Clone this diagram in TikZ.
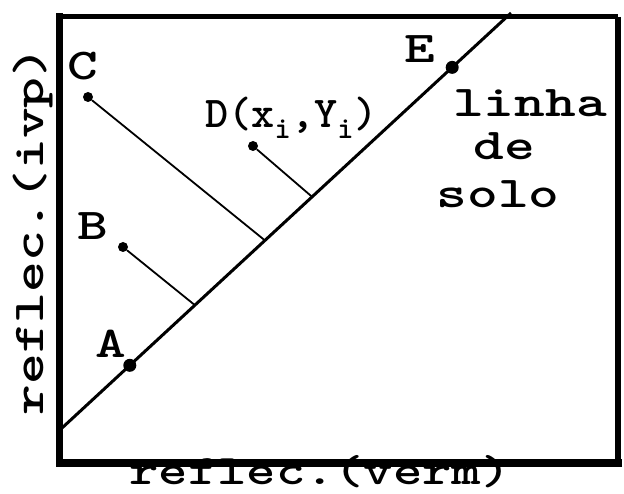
\documentclass[tikz,border=0pt]{standalone}
\usepackage{tikz}
\newcommand{\dotmx}[1]{\scalebox{1.33}[1]{#1}}

\begin{document}
\begin{tikzpicture}[x=1pt,y=-1pt,
  txt/.style={font=\fontsize{44}{48}\selectfont\ttfamily\bfseries,
              inner sep=0pt,anchor=base},
  dotsm/.style={circle,fill=black,inner sep=0pt,minimum size=10pt},
  dotbig/.style={circle,fill=black,inner sep=0pt,minimum size=13pt},
  gnd/.style={line width=3pt},
  perp/.style={line width=1.8pt},
]
  \useasboundingbox (0,0) rectangle (624,494);

  % frame
  \coordinate (tl) at (59.5,17);
  \coordinate (tr) at (618,17);
  \coordinate (br) at (618,463);
  \coordinate (bl) at (59.5,463);
  \draw[line width=5pt] (tl) -- (tr);
  \draw[line width=6pt] (tr) -- (br);
  \draw[line width=8pt,line cap=rect] (br) -- (bl);
  \draw[line width=7pt,line cap=rect] (bl) -- (tl);

  % linha de solo
  \coordinate (g0) at (62,428);
  \coordinate (g1) at (511,13);
  \draw[gnd] (g0) -- (g1)
    node[dotbig,pos=.151] (A) {} node[dotbig,pos=.869] (E) {}
    coordinate[pos=.296] (fB) coordinate[pos=.452] (fC)
    coordinate[pos=.557] (fD);

  \node[dotsm] (B) at (123,247) {};
  \node[dotsm] (C) at (88,97) {};
  \node[dotsm] (D) at (253,146) {};
  \draw[perp] (B) -- (fB);
  \draw[perp] (C) -- (fC);
  \draw[perp] (D) -- (fD);

  \node[txt] (labA) at (111,357) {\dotmx{A}};
  \node[txt] (labB) at (93,240) {\dotmx{B}};
  \node[txt] (labC) at (83,80) {\dotmx{C}};
  \node[txt] (labE) at (420,63) {\dotmx{E}};
  \node[txt,anchor=base west] (labD) at (205,128)
    {D(x\textsubscript{i},Y\textsubscript{i})};

  \node[txt] (linha) at (530,117) {\dotmx{linha}};
  \node[txt] (de) at (504,160) {\dotmx{de}};
  \node[txt] (solo) at (498,208) {\dotmx{solo}};

  \node[txt,font=\fontsize{42}{46}\selectfont\ttfamily\bfseries]
    (xlab) at (320,484) {\dotmx{reflec.(verm)}};
  \node[txt,rotate=90] (ylab) at (43,231) {\dotmx{reflec.(ivp)}};
\end{tikzpicture}
\end{document}
